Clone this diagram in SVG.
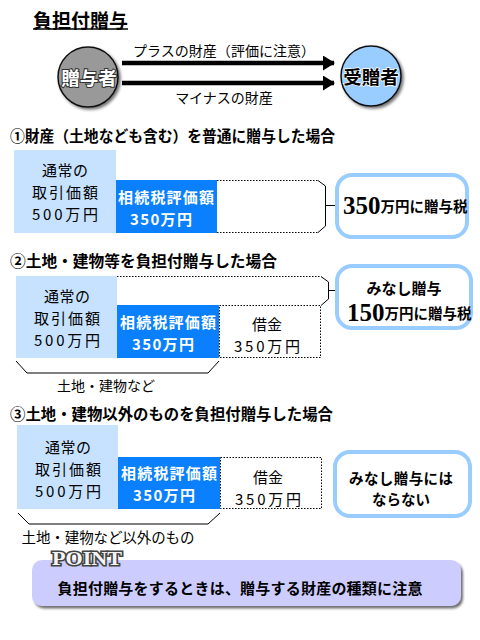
<svg xmlns="http://www.w3.org/2000/svg" width="480" height="640" viewBox="0 0 480 640">
<defs>
<style>
text{font-family:"Noto Sans CJK JP","Noto Sans",sans-serif;dominant-baseline:central;fill:#000}
.h{font-size:15.5px;font-weight:bold}
.lb{fill:#C6E2FF}
.bl{fill:#0A80FF}
.t16{font-size:15px;text-anchor:middle}
.w{fill:#fff;font-weight:bold}
.dot{fill:none;stroke:#000;stroke-width:1;stroke-dasharray:1.5 1.5}
.ln{fill:none;stroke:#000;stroke-width:1}
.rb{fill:#fff;stroke:#99CCFF;stroke-width:4}
.rt{font-size:15px;font-weight:bold;text-anchor:middle}
.rt2{font-size:14.5px;font-weight:bold;text-anchor:middle}
.big{font-family:"Liberation Serif",serif;font-weight:bold;font-size:25px}
.sm{font-size:14.5px;font-weight:bold}
.arr{stroke:#000;stroke-width:4.5;fill:none}
</style>
<filter id="sh" x="-20%" y="-20%" width="150%" height="150%">
<feDropShadow dx="2" dy="2" stdDeviation="1.5" flood-color="#000" flood-opacity="0.55"/>
</filter>
<filter id="sh2" x="-5%" y="-20%" width="110%" height="150%">
<feDropShadow dx="2" dy="2.5" stdDeviation="1.2" flood-color="#333" flood-opacity="0.7"/>
</filter>
<marker id="ah" markerWidth="12" markerHeight="16" refX="11" refY="7.5" orient="auto" markerUnits="userSpaceOnUse">
<path d="M0,0 L12,7.5 L0,15 Z" fill="#000"/>
</marker>
</defs>
<rect width="480" height="640" fill="#fff"/>

<g id="title">
<text x="33" y="19" style="font-size:19px;font-weight:bold">負担付贈与</text>
<line x1="33" y1="29" x2="128" y2="29" stroke="#000" stroke-width="1.5"/>
</g>

<g id="connectors">
<line class="arr" x1="122" y1="63" x2="334" y2="63" marker-end="url(#ah)"/>
<line class="arr" x1="122" y1="83" x2="334" y2="83" marker-end="url(#ah)"/>
<text x="224" y="50" style="font-size:14px;text-anchor:middle" textLength="182">プラスの財産（評価に注意）</text>
<text x="224" y="97" style="font-size:14px;text-anchor:middle">マイナスの財産</text>
</g>

<g id="giver">
<circle cx="88" cy="77" r="30" fill="#999" stroke="#111" stroke-width="1.5" filter="url(#sh)"/>
<text x="89" y="77" style="font-size:18.5px;font-weight:bold;text-anchor:middle;fill:#fff;stroke:#333;stroke-width:2;paint-order:stroke">贈与者</text>
</g>
<g id="receiver">
<circle cx="371" cy="76" r="30" fill="#99CCFF" stroke="#111" stroke-width="1.5" filter="url(#sh)"/>
<text x="371" y="76" style="font-size:18.5px;font-weight:bold;text-anchor:middle;stroke:#fff;stroke-width:1.5;paint-order:stroke">受贈者</text>
</g>

<!-- Section 1 -->
<g id="sec1">
<text class="h" x="10" y="135" textLength="325" lengthAdjust="spacingAndGlyphs">①財産（土地なども含む）を普通に贈与した場合</text>
<rect class="lb" x="14" y="150" width="102" height="83"/>
<text class="t16"><tspan x="65" y="169" textLength="46">通常の</tspan><tspan x="65" y="191" textLength="66">取引価額</tspan><tspan x="65" y="213" textLength="66">500万円</tspan></text>
<rect class="bl" x="116" y="180" width="101" height="53"/>
<text class="t16 w"><tspan x="166" y="196" textLength="96">相続税評価額</tspan><tspan x="161" y="218" textLength="62">350万円</tspan></text>
<line class="dot" x1="217" y1="180.5" x2="318" y2="180.5"/>
<line class="dot" x1="217" y1="232.5" x2="318" y2="232.5"/>
<polyline class="ln" points="318,180.5 325.5,186 325.5,226 318,232.5"/>
<line class="ln" x1="325.5" y1="205.5" x2="336" y2="205.5"/>
<rect class="rb" x="337" y="175" width="130" height="62" rx="15"/>
<text x="343" y="205"><tspan class="big">350</tspan><tspan class="sm">万円に贈与税</tspan></text>
</g>

<!-- Section 2 -->
<g id="sec2">
<text class="h" x="10" y="260" textLength="267" lengthAdjust="spacingAndGlyphs">②土地・建物等を負担付贈与した場合</text>
<rect class="lb" x="16" y="276" width="101" height="82"/>
<text class="t16"><tspan x="67" y="295" textLength="46">通常の</tspan><tspan x="67" y="317" textLength="66">取引価額</tspan><tspan x="67" y="339" textLength="66">500万円</tspan></text>
<rect class="bl" x="117" y="305" width="102" height="53"/>
<text class="t16 w"><tspan x="168" y="321" textLength="96">相続税評価額</tspan><tspan x="163" y="343" textLength="62">350万円</tspan></text>
<line class="dot" x1="117" y1="276.5" x2="321" y2="276.5"/>
<rect class="dot" x="219.5" y="305.5" width="101" height="52"/>
<polyline class="ln" points="321,276.5 328.5,282 328.5,299 321,305.5"/>
<line class="ln" x1="328.5" y1="290.5" x2="337" y2="290.5"/>
<text class="t16"><tspan x="267" y="323">借金</tspan><tspan x="267" y="345" textLength="66">350万円</tspan></text>
<rect class="rb" x="337" y="266" width="134" height="62" rx="15"/>
<text class="rt" x="404" y="287">みなし贈与</text>
<text x="347" y="312"><tspan class="big">150</tspan><tspan class="sm">万円に贈与税</tspan></text>
<polyline class="ln" points="16,361 27,373 208,373 219,361"/>
<text x="106" y="385" style="font-size:14px;text-anchor:middle" textLength="98">土地・建物など</text>
</g>

<!-- Section 3 -->
<g id="sec3">
<text class="h" x="10" y="413" textLength="323" lengthAdjust="spacingAndGlyphs">③土地・建物以外のものを負担付贈与した場合</text>
<rect class="lb" x="17" y="425" width="101" height="84"/>
<text class="t16"><tspan x="68" y="446" textLength="46">通常の</tspan><tspan x="68" y="468" textLength="66">取引価額</tspan><tspan x="68" y="490" textLength="66">500万円</tspan></text>
<rect class="bl" x="118" y="457" width="102" height="52"/>
<text class="t16 w"><tspan x="169" y="472" textLength="96">相続税評価額</tspan><tspan x="164" y="494" textLength="62">350万円</tspan></text>
<rect class="dot" x="220.5" y="457.5" width="101" height="51"/>
<text class="t16"><tspan x="268" y="476">借金</tspan><tspan x="268" y="498" textLength="66">350万円</tspan></text>
<rect class="rb" x="335" y="452" width="135" height="64" rx="15"/>
<text class="rt2"><tspan x="401" y="477" textLength="104">みなし贈与には</tspan><tspan x="401" y="498">ならない</tspan></text>
<polyline class="ln" points="18,513 29,524 208,524 220,513"/>
<text x="108" y="536" style="font-size:14.5px;text-anchor:middle" textLength="173">土地・建物など以外のもの</text>
</g>

<g id="point">
<rect x="32" y="560" width="429" height="46" rx="10" fill="#CCCCFF" filter="url(#sh2)"/>
<text x="87" y="558" style="font-family:'Liberation Serif',serif;font-weight:bold;font-size:19px;text-anchor:middle;fill:#f4f4f4;stroke:#444;stroke-width:3;paint-order:stroke" textLength="70" lengthAdjust="spacingAndGlyphs">POINT</text>
<text x="240" y="587" style="font-size:15px;font-weight:bold;text-anchor:middle" textLength="365">負担付贈与をするときは、贈与する財産の種類に注意</text>
</g>
</svg>
